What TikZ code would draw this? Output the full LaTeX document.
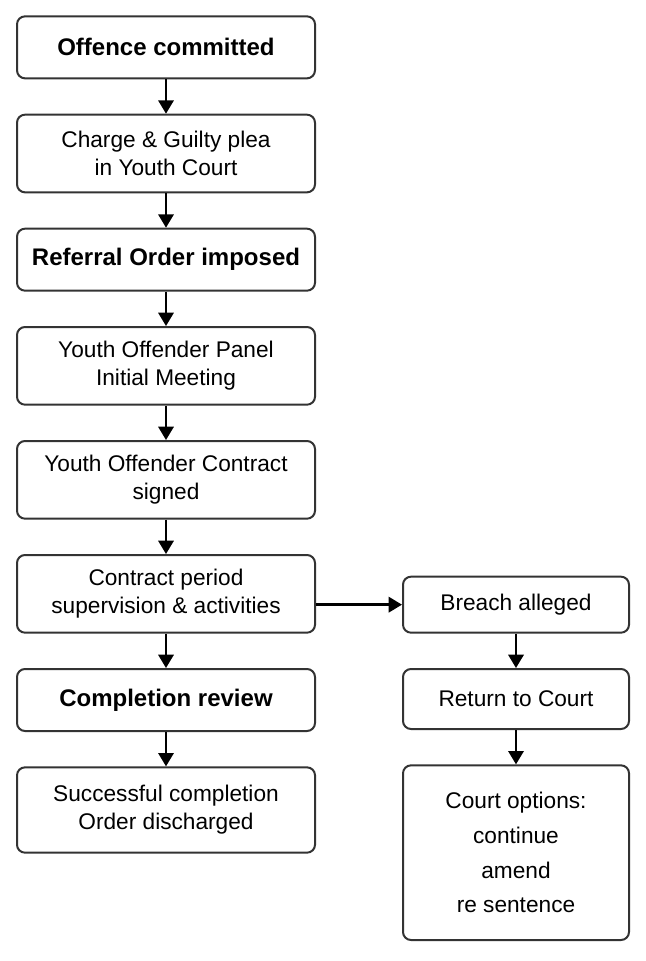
\documentclass[tikz,border=0pt]{standalone}
\usepackage{fontspec}
\setmainfont{Liberation Sans}
\usetikzlibrary{arrows.meta,positioning}

\begin{document}
\begin{tikzpicture}[
  font=\fontsize{17}{21}\selectfont,
  node distance=25.75pt and 64.5pt,
  stage/.style={rectangle, draw=black!80, line width=1.5pt, rounded corners=6pt,
                align=center, minimum width=223.5pt, minimum height=58.25pt,
                inner ysep=8pt, fill=white},
  key/.style={stage, minimum height=46.5pt, font=\fontsize{18}{21}\selectfont\bfseries},
  side/.style={stage, minimum width=169.5pt, minimum height=42pt},
  arr/.style={-{Triangle[width=11.5pt,length=10pt]}, line width=1.8pt},
]
\useasboundingbox (0,0) rectangle (484.5pt,-720.75pt);

% main route down the left
\node[key]   (offence)  at (124.5pt,-35.5pt) {Offence committed};
\node[stage, below=of offence]  (plea)     {Charge \& Guilty plea\\ in Youth Court};
\node[key,   below=of plea]     (referral) {Referral Order imposed};
\node[stage, below=of referral] (panel)    {Youth Offender Panel\\Initial Meeting};
\node[stage, below=of panel]    (signed)   {Youth Offender Contract\\signed};
\node[stage, below=of signed]   (contract) {Contract period\\supervision \& activities};
\node[key,   below=of contract] (review)   {Completion review};
\node[stage, below=of review, minimum height=64pt] (done)
      {Successful completion\\Order discharged};

% breach branch
\node[side, anchor=south west] (breach) at ([xshift=64.5pt]contract.south east)
      {Breach alleged};
\node[side, below=of breach, minimum height=45pt] (court) {Return to Court};
\node[side, below=of court, minimum height=131pt] (options)
      {Court options:\\[5pt]continue\\[5pt]amend\\[5pt]re sentence};

\draw[arr] (offence)  -- (plea);
\draw[arr] (plea)     -- (referral);
\draw[arr] (referral) -- (panel);
\draw[arr] (panel)    -- (signed);
\draw[arr] (signed)   -- (contract);
\draw[arr] (contract) -- (review);
\draw[arr] (review)   -- (done);
\draw[arr] (contract.east |- breach) -- (breach);
\draw[arr] (breach)   -- (court);
\draw[arr] (court)    -- (options);

\end{tikzpicture}
\end{document}
